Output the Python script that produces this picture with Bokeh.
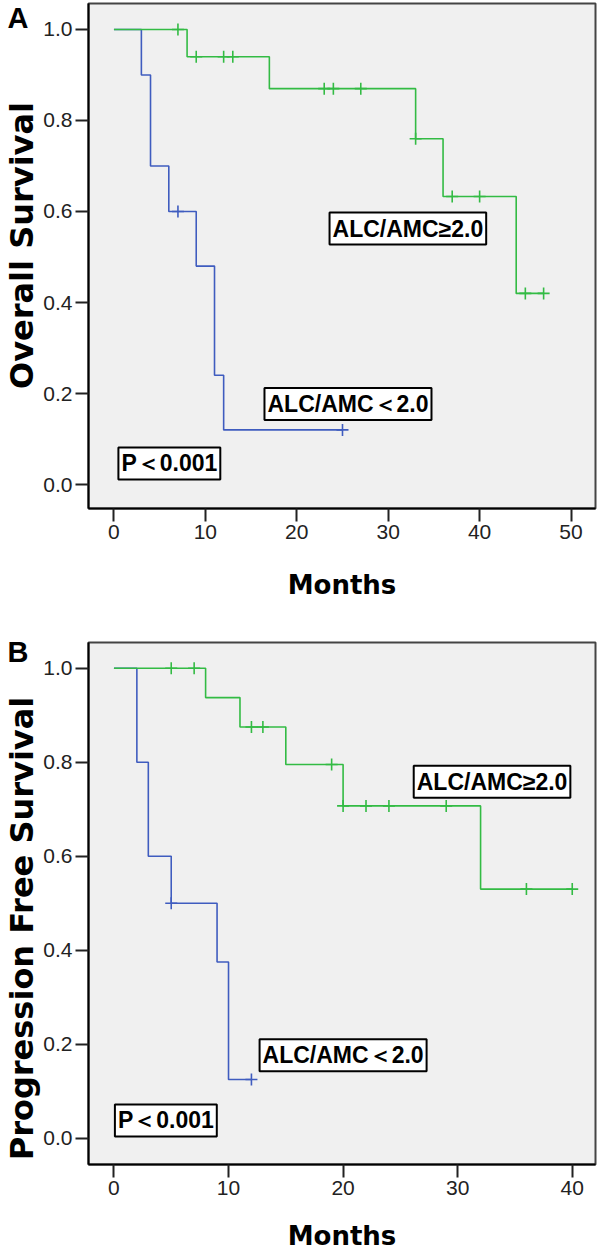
import math
from bokeh.plotting import figure
from bokeh.models import Range1d, FixedTicker, Label, NumeralTickFormatter
from bokeh.layouts import column, row
from bokeh.embed import file_html
from bokeh.resources import INLINE

# ---------------- data ----------------
# Panel A: Overall survival
a_low_t = [0, 3, 4, 6, 9, 11, 12, 25]
a_low_s = [1.0, 0.9, 0.7, 0.6, 0.48, 0.24, 0.12, 0.12]
a_low_cens_t = [7, 25]
a_low_cens_s = [0.6, 0.12]

a_high_t = [0, 8, 17, 33, 36, 44, 47]
a_high_s = [1.0, 0.94, 0.87, 0.76, 0.633, 0.42, 0.42]
a_high_cens_t = [7, 9, 12, 13, 23, 24, 27, 33, 37, 40, 45, 47]
a_high_cens_s = [1.0, 0.94, 0.94, 0.94, 0.87, 0.87, 0.87, 0.76, 0.633, 0.633, 0.42, 0.42]

# Panel B: Progression free survival
b_low_t = [0, 2, 3, 5, 9, 10, 12]
b_low_s = [1.0, 0.8, 0.6, 0.5, 0.375, 0.125, 0.125]
b_low_cens_t = [5, 12]
b_low_cens_s = [0.5, 0.125]

b_high_t = [0, 8, 11, 15, 20, 32, 40]
b_high_s = [1.0, 0.9375, 0.875, 0.795, 0.707, 0.53, 0.53]
b_high_cens_t = [5, 7, 12, 13, 19, 20, 22, 24, 29, 36, 40]
b_high_cens_s = [1.0, 1.0, 0.875, 0.875, 0.795, 0.707, 0.707, 0.707, 0.707, 0.53, 0.53]

y_ticks = [0.0, 0.2, 0.4, 0.6, 0.8, 1.0]
a_x_ticks = [0, 10, 20, 30, 40, 50]
b_x_ticks = [0, 10, 20, 30, 40]

label_high = "ALC/AMC≥2.0"
label_low = "ALC/AMC＜2.0"
label_p = "P＜0.001"

BLUE = "#3f5cbf"
GREEN = "#33bb44"
TICK_FONT = "Liberation Sans"
TITLE_FONT = "DejaVu Sans"
SIDE_W = 40


def plain_fig(width, height, **kw):
    f = figure(width=width, height=height, output_backend="svg",
               toolbar_location=None, x_range=Range1d(0, 1),
               y_range=Range1d(0, 1), x_axis_location=None,
               y_axis_location="left", min_border=0, min_border_left=0,
               min_border_right=0, min_border_top=0, **kw)
    f.grid.visible = False
    f.outline_line_color = None
    f.background_fill_color = "white"
    f.border_fill_color = "white"
    return f


def blank_axis(ax, label, font, size, standoff=0):
    ax.ticker = FixedTicker(ticks=[])
    ax.axis_line_color = None
    ax.major_tick_line_color = None
    ax.minor_tick_line_color = None
    ax.major_tick_out = 0
    ax.major_tick_in = 0
    ax.minor_tick_out = 0
    ax.major_label_standoff = 0
    ax.axis_label = label
    ax.axis_label_standoff = standoff
    ax.axis_label_text_font = font
    ax.axis_label_text_font_style = "bold"
    ax.axis_label_text_font_size = size
    ax.axis_label_text_color = "black"


def make_side(total_h, letter_h, letter, ytitle, frame_bottom_gap):
    # panel letter: horizontal label of an empty left axis
    lf = plain_fig(SIDE_W, letter_h, min_border_bottom=0)
    blank_axis(lf.yaxis[0], letter, TICK_FONT, "29px", standoff=12)
    lf.yaxis[0].axis_label_orientation = "horizontal"
    # rotated axis title: label of an empty left axis
    tf = plain_fig(SIDE_W, total_h - letter_h, min_border_bottom=frame_bottom_gap)
    blank_axis(tf.yaxis[0], ytitle, TITLE_FONT, "32px")
    return column(lf, tf, spacing=0)


def make_panel(height, min_top, min_bottom, x_range, y_range, x_ticks,
               low, high, boxes, xlabel_standoff):
    p = figure(width=600 - SIDE_W, height=height, output_backend="svg",
               toolbar_location=None,
               x_range=Range1d(*x_range), y_range=Range1d(*y_range),
               min_border_left=87 - SIDE_W, min_border_right=5,
               min_border_top=min_top, min_border_bottom=min_bottom)
    p.background_fill_color = "#f0f0f0"
    p.border_fill_color = "white"
    p.outline_line_color = "#444444"
    p.outline_line_width = 2
    p.xgrid.visible = False
    p.ygrid.visible = False

    for ax in (p.xaxis[0], p.yaxis[0]):
        ax.axis_line_color = "black"
        ax.axis_line_width = 2
        ax.major_tick_line_color = "#222222"
        ax.major_tick_line_width = 2
        ax.major_tick_out = 13
        ax.major_tick_in = 0
        ax.minor_tick_line_color = None
        ax.major_label_text_font = TICK_FONT
        ax.major_label_text_font_size = "21px"
        ax.major_label_text_color = "#222222"
        ax.major_label_standoff = 3

    p.yaxis[0].ticker = FixedTicker(ticks=y_ticks)
    p.yaxis[0].formatter = NumeralTickFormatter(format="0.0")
    p.xaxis[0].ticker = FixedTicker(ticks=x_ticks)
    p.xaxis[0].formatter = NumeralTickFormatter(format="0")
    p.xaxis[0].axis_label = "Months"
    p.xaxis[0].axis_label_text_font = TITLE_FONT
    p.xaxis[0].axis_label_text_font_style = "bold"
    p.xaxis[0].axis_label_text_font_size = "26px"
    p.xaxis[0].axis_label_text_color = "black"
    p.xaxis[0].axis_label_standoff = xlabel_standoff

    (lt, ls, lct, lcs), (ht, hs, hct, hcs) = low, high
    p.step(lt, ls, mode="after", line_color=BLUE, line_width=1.6)
    p.scatter(lct, lcs, marker="cross", size=12, line_color=BLUE, line_width=1.6)
    p.step(ht, hs, mode="after", line_color=GREEN, line_width=1.6)
    p.scatter(hct, hcs, marker="cross", size=12, line_color=GREEN, line_width=1.6)

    for text, (bx, by) in boxes:
        p.add_layout(Label(x=bx, y=by, text=text, text_align="center",
                           text_baseline="middle", text_font=TICK_FONT,
                           text_font_style="bold", text_font_size="23px",
                           text_color="black", background_fill_color="white",
                           border_line_color="black", border_line_width=2,
                           padding=3))
    return p


HA, HB = 630, 629

pA = make_panel(
    height=HA, min_top=3, min_bottom=122,
    x_range=(-2.784, 52.675), y_range=(-0.0527, 1.0571), x_ticks=a_x_ticks,
    low=(a_low_t, a_low_s, a_low_cens_t, a_low_cens_s),
    high=(a_high_t, a_high_s, a_high_cens_t, a_high_cens_s),
    boxes=[(label_high, (32.15, 0.5626)), (label_low, (25.6, 0.177)),
           (label_p, (6.06, 0.0462))],
    xlabel_standoff=28)
sA = make_side(HA, 35, "A", "Overall Survival", 175)

pB = make_panel(
    height=HB, min_top=12, min_bottom=95,
    x_range=(-2.221, 42.03), y_range=(-0.056, 1.0547), x_ticks=b_x_ticks,
    low=(b_low_t, b_low_s, b_low_cens_t, b_low_cens_s),
    high=(b_high_t, b_high_s, b_high_cens_t, b_high_cens_s),
    boxes=[(label_high, (33.0, 0.7585)), (label_low, (20.0, 0.1762)),
           (label_p, (4.53, 0.0377))],
    xlabel_standoff=23)
sB = make_side(HB, 43, "B", "Progression Free Survival", 76)

layout = column(row(sA, pA, spacing=0), row(sB, pB, spacing=0), spacing=0)
open("out.html", "w").write(file_html(layout, INLINE))
